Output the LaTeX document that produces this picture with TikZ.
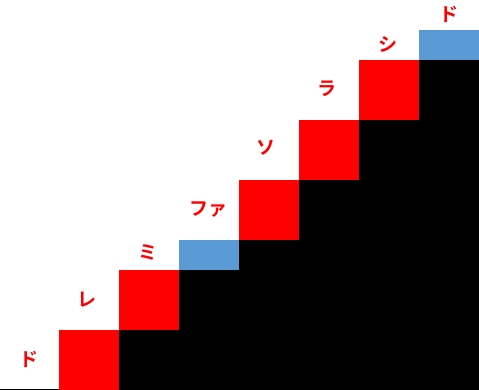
\documentclass[tikz,border=0pt]{standalone}
\usepackage{fontspec}
\newfontfamily\cjk{Noto Sans CJK JP}[BoldFont={* Bold}]
\definecolor{nred}{HTML}{FF0000}
\definecolor{nblue}{HTML}{5B9BD5}
\begin{document}
\begin{tikzpicture}[x=1pt,y=-1pt,
  lbl/.style={text=nred,font=\cjk\bfseries\fontsize{19}{19}\selectfont,inner sep=0pt,anchor=center},
  redsq/.style={fill=nred,draw=none},
  bluesq/.style={fill=nblue,draw=none}]
\useasboundingbox (0,0) rectangle (479,390);
\fill[white] (0,0) rectangle (479,390);
% bottom line
\draw[black,line width=1.5pt] (0,389.25) -- (59,389.25);
% black mass
\fill[black] (119,390) -- (119,330) -- (179,330) -- (179,270) -- (239,270) -- (239,240)
  -- (299,240) -- (299,180) -- (359,180) -- (359,120) -- (419,120) -- (419,60)
  -- (479,60) -- (479,390) -- cycle;
% steps
\fill[redsq] (59,330) rectangle (119,390);
\fill[redsq] (119,270) rectangle (179,330);
\fill[bluesq] (179,240) rectangle (239,270);
\fill[redsq] (239,180) rectangle (299,240);
\fill[redsq] (299,120) rectangle (359,180);
\fill[redsq] (359,60) rectangle (419,120);
\fill[bluesq] (419,30) rectangle (479,60);
% labels
\node[lbl] (do1) at (29,359) {ド};
\node[lbl] (re) at (87,300) {レ};
\node[lbl] (mi) at (148,253) {ミ};
\node[lbl] (fa) at (208,209) {ファ};
\node[lbl] (so) at (266,148) {ソ};
\node[lbl] (ra) at (327,89) {ラ};
\node[lbl] (si) at (388,44) {シ};
\node[lbl] (do2) at (449,14) {ド};
\end{tikzpicture}
\end{document}
